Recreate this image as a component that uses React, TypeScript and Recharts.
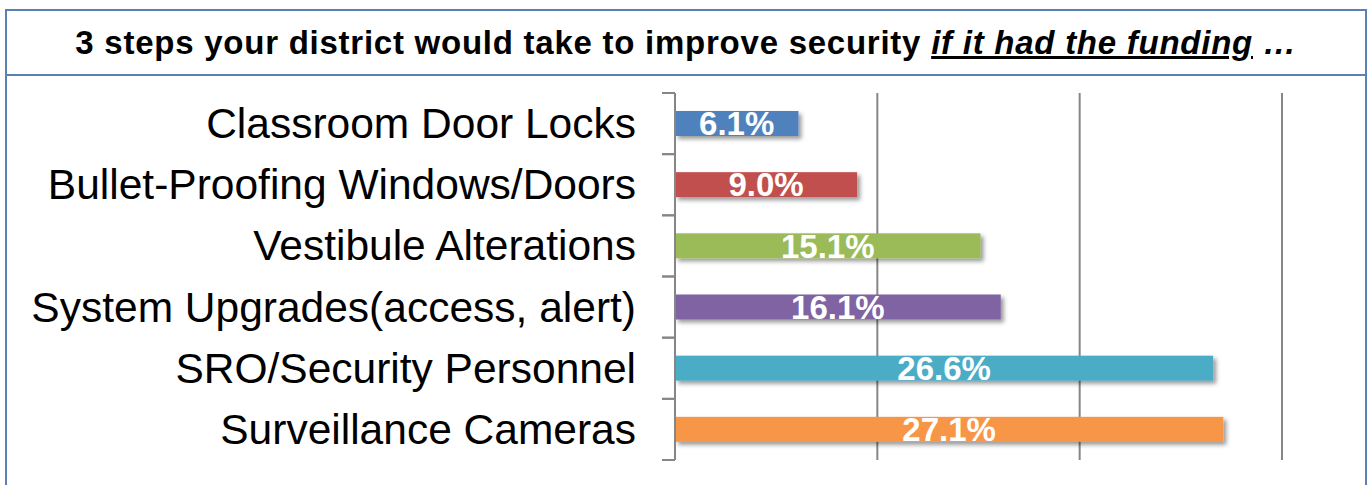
import { Bar, BarChart, CartesianGrid, Cell, LabelList, XAxis, YAxis } from 'recharts';

const CATEGORIES = [
  'Classroom Door Locks',
  'Bullet-Proofing Windows/Doors',
  'Vestibule Alterations',
  'System Upgrades(access, alert)',
  'SRO/Security Personnel',
  'Surveillance Cameras',
];
const SHARES = [6.1, 9.0, 15.1, 16.1, 26.6, 27.1];
const BAR_COLORS = ['#4f81bd', '#c0504d', '#9bbb59', '#8064a2', '#4bacc6', '#f79646'];
const X_TICKS = [0, 10, 20, 30];

const FONT = '"Liberation Sans", Arial, sans-serif';
const GRID = '#868686';

const data = CATEGORIES.map((name, i) => ({ name, value: SHARES[i] }));

function CategoryTick(props: any) {
  const { x, y, payload } = props;
  const half = payload?.offset ?? 30.6;
  return (
    <g>
      <line x1={x - 13} x2={x} y1={y - half} y2={y - half} stroke={GRID} strokeWidth={2} />
      <line x1={x - 13} x2={x} y1={y + half} y2={y + half} stroke={GRID} strokeWidth={2} />
      <text
        x={x - 39}
        y={y}
        textAnchor="end"
        dominantBaseline="central"
        fontSize={42.5}
        fontFamily={FONT}
        fill="#000"
      >
        {payload.value}
      </text>
    </g>
  );
}

function ShadowBar(props: any) {
  const { x, y, width, height, fill } = props;
  return <rect x={x} y={y} width={width} height={height} fill={fill} filter="url(#barShadow)" />;
}

export default function App() {
  return (
    <div
      style={{
        position: 'absolute',
        left: 0,
        top: 0,
        width: 1370,
        height: 485,
        overflow: 'hidden',
        background: '#fff',
        fontFamily: FONT,
      }}
    >
      <svg width={0} height={0} style={{ position: 'absolute' }}>
        <defs>
          <filter id="barShadow" x="-10%" y="-30%" width="130%" height="190%">
            <feDropShadow dx="3" dy="3" stdDeviation="2" floodColor="#000" floodOpacity="0.4" />
          </filter>
        </defs>
      </svg>
      <div
        style={{
          position: 'absolute',
          left: 5,
          top: 9,
          width: 1362,
          height: 500,
          border: '2px solid #5b80b8',
          boxSizing: 'border-box',
        }}
      />
      <div
        style={{
          position: 'absolute',
          left: 5,
          top: 9,
          width: 1362,
          height: 67,
          borderBottom: '2px solid #5b80b8',
          boxSizing: 'border-box',
          textAlign: 'center',
          lineHeight: '68px',
          fontSize: 33,
          letterSpacing: 0.75,
          fontWeight: 'bold',
          color: '#000',
          whiteSpace: 'nowrap',
        }}
      >
        3 steps your district would take to improve security{' '}
        <i>
          <u>if it had the funding</u> …
        </i>
      </div>
      <div style={{ position: 'absolute', left: 0, top: 0 }}>
        <BarChart
          width={1370}
          height={485}
          data={data}
          layout="vertical"
          margin={{ top: 93, right: 88, bottom: 25, left: 0 }}
        >
          <CartesianGrid horizontal={false} stroke={GRID} strokeWidth={2} />
          <XAxis type="number" domain={[0, 30]} ticks={X_TICKS} hide />
          <YAxis
            type="category"
            dataKey="name"
            width={675}
            tickSize={0}
            tickMargin={0}
            tickLine={false}
            axisLine={{ stroke: GRID, strokeWidth: 2 }}
            tick={<CategoryTick />}
            interval={0}
          />
          <Bar dataKey="value" barSize={25} isAnimationActive={false} shape={<ShadowBar />}>
            {data.map((d, i) => (
              <Cell key={d.name} fill={BAR_COLORS[i]} />
            ))}
            <LabelList
              dataKey="value"
              position="center"
              formatter={(v: any) => `${Number(v).toFixed(1)}%`}
              fill="#fff"
              fontSize={33}
              fontWeight="bold"
              fontFamily={FONT}
            />
          </Bar>
        </BarChart>
      </div>
    </div>
  );
}
